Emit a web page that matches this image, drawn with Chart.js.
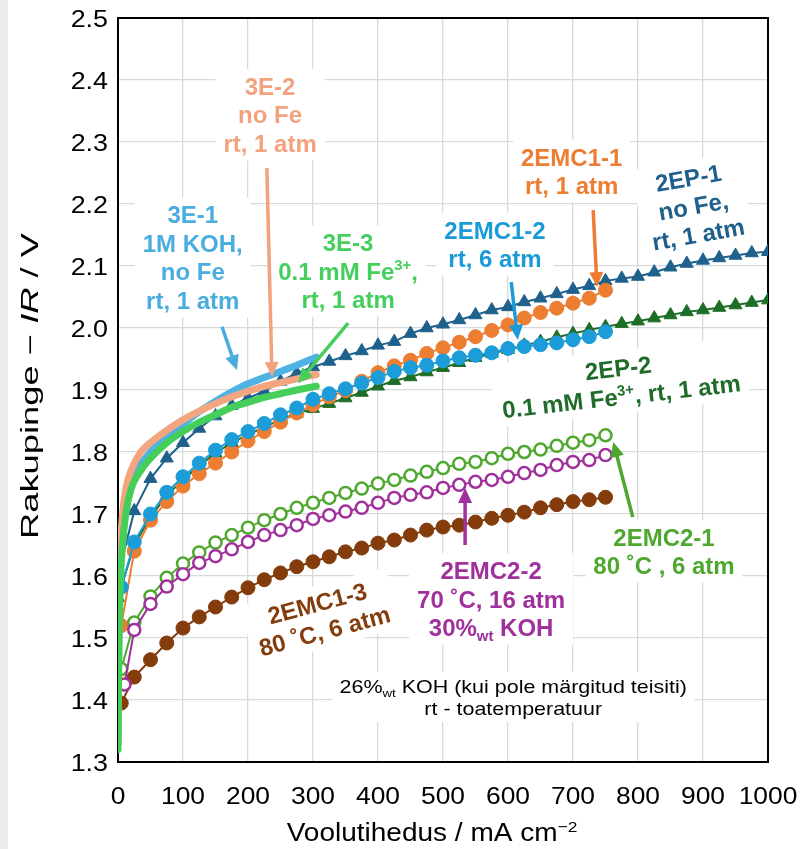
<!DOCTYPE html>
<html><head><meta charset="utf-8">
<script src="https://cdn.jsdelivr.net/npm/chart.js@4.4.0/dist/chart.umd.min.js"></script>
<style>html,body{margin:0;padding:0;background:#fff;}canvas{display:block;}</style>
</head><body>
<canvas id="c" width="805" height="849"></canvas>
<script>
// ---------- data ----------
const xEP = [0,25,50,75,100,125,150,175,200,225,250,275,300,325,350,375,400,425,450,475,500,525,550,575,600,625,650,675,700,725,750,775,800,825,850,875,900,925,950,975,1000];
const yEP1 = [1.600,1.705,1.757,1.790,1.815,1.838,1.858,1.875,1.887,1.898,1.914,1.927,1.937,1.946,1.955,1.963,1.972,1.978,1.991,2.000,2.006,2.013,2.021,2.029,2.034,2.042,2.048,2.055,2.062,2.068,2.076,2.080,2.083,2.090,2.098,2.104,2.109,2.113,2.117,2.121,2.123];
const yEP2 = [1.565,1.650,1.695,1.730,1.755,1.778,1.798,1.815,1.828,1.840,1.852,1.862,1.870,1.878,1.887,1.896,1.906,1.915,1.921,1.929,1.936,1.944,1.952,1.959,1.965,1.972,1.978,1.985,1.991,1.997,2.002,2.007,2.011,2.016,2.021,2.026,2.029,2.033,2.037,2.041,2.045];

const xEMC = [5,25,50,75,100,125,150,175,200,225,250,275,300,325,350,375,400,425,450,475,500,525,550,575,600,625,650,675,700,725,750];
const yEMC11 = [1.520,1.640,1.690,1.720,1.745,1.765,1.782,1.800,1.818,1.833,1.848,1.863,1.876,1.889,1.899,1.914,1.928,1.939,1.948,1.959,1.968,1.977,1.986,1.996,2.005,2.016,2.025,2.032,2.040,2.048,2.061];
const yEMC12 = [1.582,1.655,1.700,1.735,1.760,1.782,1.803,1.820,1.833,1.846,1.860,1.871,1.885,1.894,1.902,1.911,1.920,1.930,1.936,1.940,1.947,1.952,1.956,1.960,1.967,1.970,1.973,1.976,1.981,1.986,1.994];
const yEMC13 = [1.395,1.437,1.465,1.492,1.516,1.534,1.550,1.566,1.581,1.594,1.605,1.615,1.623,1.631,1.639,1.645,1.653,1.658,1.666,1.674,1.679,1.682,1.687,1.693,1.698,1.703,1.710,1.715,1.720,1.723,1.727];
const yEMC21 = [1.450,1.525,1.567,1.597,1.620,1.638,1.654,1.666,1.678,1.690,1.700,1.710,1.718,1.726,1.734,1.741,1.749,1.755,1.762,1.768,1.774,1.781,1.784,1.790,1.797,1.800,1.804,1.810,1.815,1.819,1.827];
const xEMC22 = [10,25,50,75,100,125,150,175,200,225,250,275,300,325,350,375,400,425,450,475,500,525,550,575,600,625,650,675,700,725,750];
const yEMC22 = [1.425,1.513,1.555,1.583,1.603,1.621,1.632,1.643,1.655,1.666,1.674,1.682,1.692,1.698,1.704,1.710,1.718,1.726,1.731,1.735,1.742,1.747,1.752,1.755,1.760,1.766,1.771,1.779,1.784,1.787,1.795];

const x3E = [0,1,2,4,7,12,20,35,50,75,100,125,150,175,200,225,250,275,305];
const y3E1 = [1.330,1.480,1.560,1.620,1.680,1.720,1.750,1.780,1.800,1.825,1.845,1.865,1.882,1.897,1.910,1.920,1.930,1.940,1.953];
const y3E2 = [1.330,1.500,1.580,1.650,1.700,1.740,1.770,1.800,1.815,1.835,1.852,1.866,1.878,1.889,1.898,1.906,1.912,1.918,1.925];
const y3E3 = [1.320,1.450,1.520,1.600,1.650,1.700,1.740,1.770,1.790,1.815,1.833,1.848,1.860,1.872,1.880,1.888,1.894,1.900,1.906];

const xTicks = [0,100,200,300,400,500,600,700,800,900,1000];
const yTicks = [1.3,1.4,1.5,1.6,1.7,1.8,1.9,2.0,2.1,2.2,2.3,2.4,2.5];
const xTickLabels = ['0','100','200','300','400','500','600','700','800','900','1000'];
const yTickLabels = ['1.3','1.4','1.5','1.6','1.7','1.8','1.9','2.0','2.1','2.2','2.3','2.4','2.5'];

// ---------- helpers ----------
const FONT = '"Liberation Sans", Arial, sans-serif';
function pts(xs, ys){ return xs.map((x,i)=>({x:x, y:ys[i]})); }

function markerSet(label, xs, ys, color, style, open){
  return {
    label, data: pts(xs, ys), showLine: true,
    borderColor: color, borderWidth: 2,
    pointStyle: style,
    pointRadius: style==='triangle' ? 7.5 : (open ? 6 : 7),
    pointBackgroundColor: open ? '#ffffff' : color,
    pointBorderColor: color,
    pointBorderWidth: open ? 2.5 : 1
  };
}
function thickSet(label, xs, ys, color){
  return {
    label, data: pts(xs, ys), showLine: true,
    borderColor: color, borderWidth: 7, pointRadius: 0,
    cubicInterpolationMode: 'monotone', borderCapStyle: 'round', borderJoinStyle:'round'
  };
}

// annotations (positions in data units)
const notes = [
  {x:234, y:2.344, color:'#f2a27e', rot:0, lines:[[['3E-2','n']],[['no Fe','n']],[['rt, 1 atm','n']]]},
  {x:115, y:2.114, color:'#4aade0', rot:0, lines:[[['3E-1','n']],[['1M KOH,','n']],[['no Fe','n']],[['rt, 1 atm','n']]]},
  {x:354, y:2.092, color:'#44cf5c', rot:0, lines:[[['3E-3','n']],[['0.1 mM Fe','n'],['3+','sup'],[',','n']],[['rt, 1 atm','n']]]},
  {x:580, y:2.135, color:'#1a9bd7', rot:0, lines:[[['2EMC1-2','n']],[['rt, 6 atm','n']]]},
  {x:698, y:2.253, color:'#ed7d31', rot:0, lines:[[['2EMC1-1','n']],[['rt, 1 atm','n']]]},
  {x:885, y:2.197, color:'#1f5f8b', rot:-10, lines:[[['2EP-1','n']],[['no Fe,','n']],[['rt, 1 atm','n']]]},
  {x:772, y:1.913, color:'#1e6b2a', rot:-6.5, lines:[[['2EP-2','n']],[['0.1 mM Fe','n'],['3+','sup'],[', rt, 1 atm','n']]]},
  {x:840, y:1.640, color:'#4ea72e', rot:0, lines:[[['2EMC2-1','n']],[['80 \u02daC , 6 atm','n']]]},
  {x:574, y:1.563, color:'#a0309b', rot:0, lines:[[['2EMC2-2','n']],[['70 \u02daC, 16 atm','n']],[['30%','n'],['wt','sub'],[' KOH','n']]]},
  {x:312, y:1.534, color:'#843c0c', rot:-15, lines:[[['2EMC1-3','n']],[['80 \u02daC, 6 atm','n']]]},
  {x:608, y:1.405, color:'#000000', rot:0, size:19, sx:1.13, bold:false, lh:22, lines:[[['26%','n'],['wt','sub'],[' KOH (kui pole märgitud teisiti)','n']],[['rt - toatemperatuur','n']]]}
];
const arrows = [
  {x1:229, y1:2.258, x2:237, y2:1.921, color:'#f2a27e'},
  {x1:160, y1:2.002, x2:183, y2:1.932, color:'#4aade0'},
  {x1:354, y1:2.008, x2:277, y2:1.911, color:'#44cf5c'},
  {x1:605, y1:2.074, x2:615, y2:1.981, color:'#1a9bd7'},
  {x1:731, y1:2.190, x2:737, y2:2.066, color:'#ed7d31'},
  {x1:792, y1:1.695, x2:762, y2:1.816, color:'#4ea72e'},
  {x1:534, y1:1.650, x2:534, y2:1.742, color:'#a0309b'}
];

function setFont(ctx, st, size, bold){
  const s = (st==='sup'||st==='sub') ? size*0.62 : size;
  ctx.font = (st==='i'?'italic ':'') + (bold?'bold ':'') + s + 'px ' + FONT;
}
function lineWidthOf(ctx, line, size, bold){
  let w=0; for(const [t,st] of line){ setFont(ctx,st,size,bold); w+=ctx.measureText(t).width; } return w;
}
function drawRich(ctx, line, cx, cy, size, bold, align){
  const w = lineWidthOf(ctx, line, size, bold);
  let x = align==='right' ? cx - w : cx - w/2;
  ctx.textAlign='left'; ctx.textBaseline='alphabetic';
  const base = cy + size*0.36;
  for(const [t,st] of line){
    setFont(ctx,st,size,bold);
    let y = base;
    if(st==='sup') y -= size*0.38;
    if(st==='sub') y += size*0.2;
    ctx.fillText(t,x,y);
    x += ctx.measureText(t).width;
  }
}
function noteGeom(ctx, n){
  const size = n.size||24, bold = n.bold!==false, lh = n.lh||28.5, sx = n.sx||1;
  let w=0; for(const l of n.lines) w=Math.max(w,lineWidthOf(ctx,l,size,bold));
  return {size,bold,lh,sx,w:w*sx,h:n.lines.length*lh};
}

const annotPlugin = {
  id:'annot',
  beforeDraw(chart){
    const c=chart.ctx; c.save();
    c.fillStyle='#ffffff'; c.fillRect(0,0,chart.width,chart.height);
    c.fillStyle='#ebebeb'; c.fillRect(0,0,8,chart.height);
    c.restore();
  },
  beforeDatasetsDraw(chart){
    const c=chart.ctx, xs=chart.scales.x, ys=chart.scales.y, a=chart.chartArea;
    c.save();
    for(const n of notes){
      const g=noteGeom(c,n);
      c.save();
      c.translate(xs.getPixelForValue(n.x), ys.getPixelForValue(n.y));
      c.rotate((n.rot||0)*Math.PI/180);
      c.fillStyle='#ffffff';
      c.fillRect(-g.w/2-8, -g.h/2-3, g.w+16, g.h+6);
      c.restore();
    }
    c.strokeStyle='#000'; c.lineWidth=2;
    c.strokeRect(a.left, a.top, a.right-a.left, a.bottom-a.top);
    c.restore();
  },
  afterDatasetsDraw(chart){
    const c=chart.ctx, xs=chart.scales.x, ys=chart.scales.y, a=chart.chartArea;
    c.save();
    for(const ar of arrows){
      const x1=xs.getPixelForValue(ar.x1), y1=ys.getPixelForValue(ar.y1);
      const x2=xs.getPixelForValue(ar.x2), y2=ys.getPixelForValue(ar.y2);
      const ang=Math.atan2(y2-y1,x2-x1), L=15, W=7;
      c.strokeStyle=ar.color; c.fillStyle=ar.color; c.lineWidth=3.5;
      c.beginPath(); c.moveTo(x1,y1); c.lineTo(x2-Math.cos(ang)*L*0.8, y2-Math.sin(ang)*L*0.8); c.stroke();
      c.beginPath();
      c.moveTo(x2,y2);
      c.lineTo(x2-Math.cos(ang)*L+Math.sin(ang)*W, y2-Math.sin(ang)*L-Math.cos(ang)*W);
      c.lineTo(x2-Math.cos(ang)*L-Math.sin(ang)*W, y2-Math.sin(ang)*L+Math.cos(ang)*W);
      c.closePath(); c.fill();
    }
    for(const n of notes){
      const g=noteGeom(c,n);
      c.save();
      c.translate(xs.getPixelForValue(n.x), ys.getPixelForValue(n.y));
      c.rotate((n.rot||0)*Math.PI/180);
      c.scale(g.sx,1);
      c.fillStyle=n.color;
      n.lines.forEach((l,i)=>{ drawRich(c,l,0,-g.h/2+g.lh*(i+0.5),g.size,g.bold); });
      c.restore();
    }
    // tick labels
    c.fillStyle='#000';
    yTicks.forEach((v,i)=>{
      c.save(); c.translate(a.left-10, ys.getPixelForValue(v)); c.scale(1.12,1);
      drawRich(c, [[yTickLabels[i],'n']], 0, 0, 24, false, 'right');
      c.restore();
    });
    xTicks.forEach((v,i)=>{
      c.save(); c.translate(xs.getPixelForValue(v), a.bottom+33); c.scale(1.1,1);
      drawRich(c, [[xTickLabels[i],'n']], 0, 0, 24, false);
      c.restore();
    });
    // axis titles
    c.save();
    c.translate(30, 386); c.rotate(-Math.PI/2); c.scale(1.58,1);
    drawRich(c, [['Rakupinge \u2212 ','n'],['IR','i'],[' / V','n']], 0, 0, 23, false);
    c.restore();
    c.save();
    c.translate(432, 832); c.scale(1.12,1);
    drawRich(c, [['Voolutihedus / mA cm','n'],['\u22122','sup']], 0, 0, 25, false);
    c.restore();
    c.restore();
  }
};

const datasets = [
  thickSet('3E-3', x3E, y3E3, '#45cf5a'),
  thickSet('3E-2', x3E, y3E2, '#f3a580'),
  thickSet('3E-1', x3E, y3E1, '#4db2e4'),
  markerSet('2EMC2-2', xEMC22, yEMC22, '#a0309b', 'circle', true),
  markerSet('2EMC2-1', xEMC, yEMC21, '#4ea72e', 'circle', true),
  markerSet('2EMC1-3', xEMC, yEMC13, '#843c0c', 'circle', false),
  markerSet('2EMC1-2', xEMC, yEMC12, '#1c9dd9', 'circle', false),
  markerSet('2EMC1-1', xEMC, yEMC11, '#ed7d31', 'circle', false),
  markerSet('2EP-2', xEP, yEP2, '#1e6e28', 'triangle', false),
  markerSet('2EP-1', xEP, yEP1, '#1f618d', 'triangle', false)
];

new Chart(document.getElementById('c'), {
  type: 'scatter',
  data: { datasets },
  options: {
    responsive: false, animation: false, devicePixelRatio: 1,
    layout: { padding: { top: 18, right: 37, left: 0, bottom: 0 } },
    plugins: { legend: { display: false }, tooltip: { enabled: false } },
    scales: {
      x: {
        type: 'linear', min: 0, max: 1000,
        afterFit(s){ s.height = 87; },
        afterBuildTicks(s){ s.ticks = xTicks.map(v=>({value:v})); },
        grid: { color: '#d9d9d9', lineWidth: 1.3, drawTicks: false },
        border: { display: false },
        ticks: { display: false }
      },
      y: {
        type: 'linear', min: 1.3, max: 2.5,
        afterFit(s){ s.width = 118; },
        afterBuildTicks(s){ s.ticks = yTicks.map(v=>({value:v})); },
        grid: { color: '#d9d9d9', lineWidth: 1.3, drawTicks: false },
        border: { display: false },
        ticks: { display: false }
      }
    }
  },
  plugins: [annotPlugin]
});
</script>
</body></html>
